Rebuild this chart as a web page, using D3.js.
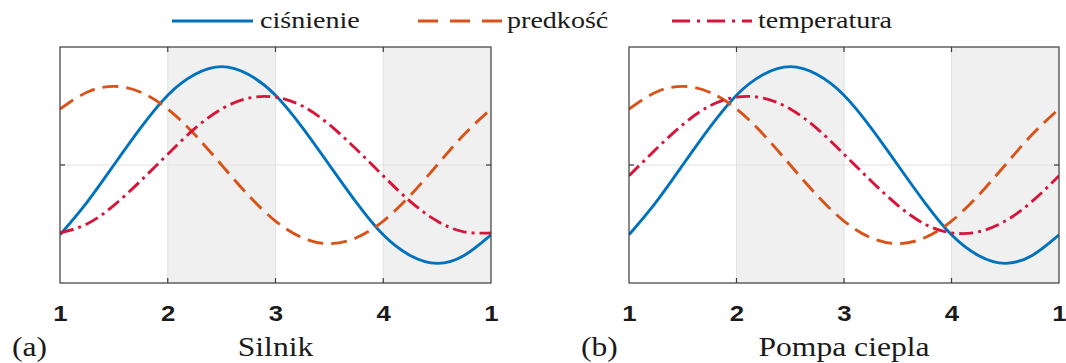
<!DOCTYPE html>
<html>
<head>
<meta charset="utf-8">
<script src="https://cdn.jsdelivr.net/npm/d3@7/dist/d3.min.js"></script>
<style>
  html, body { margin: 0; padding: 0; background: #fff; }
  svg { display: block; }
</style>
</head>
<body>
<svg id="chart" width="1066" height="363"></svg>
<script>
// Cycle position (one full cycle 1→2→3→4→1)
const cyclePos = [0, 0.25, 0.5, 0.75, 1, 1.25, 1.5, 1.75, 2, 2.25, 2.5, 2.75, 3, 3.25, 3.5, 3.75, 4];

// Normalised signals
const cisnienie   = [-0.71, -0.38, 0.00, 0.38, 0.71, 0.92, 1.00, 0.92, 0.71, 0.38, 0.00, -0.38, -0.71, -0.92, -1.00, -0.92, -0.71];
const predkosc    = [0.57, 0.74, 0.80, 0.74, 0.57, 0.31, 0.00, -0.31, -0.57, -0.74, -0.80, -0.74, -0.57, -0.31, 0.00, 0.31, 0.57];
const temperaturaSilnik = [-0.69, -0.60, -0.41, -0.16, 0.11, 0.37, 0.57, 0.68, 0.69, 0.60, 0.41, 0.16, -0.11, -0.37, -0.57, -0.68, -0.69];
const temperaturaPompa  = [-0.11, 0.16, 0.41, 0.60, 0.69, 0.68, 0.57, 0.37, 0.11, -0.16, -0.41, -0.60, -0.69, -0.68, -0.57, -0.37, -0.11];

const tickPos    = [0, 1, 2, 3, 4];
const tickLabels = ["1", "2", "3", "4", "1"];
const shadedBands = [[1, 2], [3, 4]];

const seriesNames = ["ciśnienie", "predkość", "temperatura"];
const panelTags   = ["(a)", "(b)"];
const panelTitles = ["Silnik", "Pompa ciepla"];

// Styling
const colors = ["#0072BD", "#D95319", "#D7153A"];
const dashes = [null, "16,8", "14,5,3,5"];
const legendDashes = [null, "20,12", "18,7,3,7"];
const TEXT_SX = 1.17;
const serif = "'Liberation Serif', 'Times New Roman', serif";
const sans = "'Liberation Sans', Arial, sans-serif";

const svg = d3.select("#chart");

const panels = [
  { left: 60,  right: 491,  temp: temperaturaSilnik },
  { left: 629, right: 1059, temp: temperaturaPompa }
];
const plotTop = 47, plotBottom = 283;

const y = d3.scaleLinear().domain([-1.2, 1.2]).range([plotBottom, plotTop]);

function stretchedText(g, x, yPos, txt, size, family, weight, anchor) {
  return g.append("text")
    .attr("transform", `translate(${x},${yPos}) scale(${TEXT_SX},1)`)
    .attr("text-anchor", anchor || "middle")
    .attr("font-family", family)
    .attr("font-size", size)
    .attr("font-weight", weight || "normal")
    .attr("fill", "#1a1a1a")
    .text(txt);
}

panels.forEach((p, i) => {
  const x = d3.scaleLinear().domain([0, 4]).range([p.left, p.right]);
  const g = svg.append("g");
  const clipId = "clip" + i;
  svg.append("clipPath").attr("id", clipId)
    .append("rect").attr("x", p.left).attr("y", plotTop)
    .attr("width", p.right - p.left).attr("height", plotBottom - plotTop);

  // shaded phases
  g.selectAll("rect.band").data(shadedBands).join("rect")
    .attr("class", "band")
    .attr("x", d => x(d[0])).attr("width", d => x(d[1]) - x(d[0]))
    .attr("y", plotTop).attr("height", plotBottom - plotTop)
    .attr("fill", "#f0f0f1");

  // grid
  g.selectAll("line.vgrid").data(tickPos.slice(1, -1)).join("line")
    .attr("class", "vgrid")
    .attr("x1", d => x(d)).attr("x2", d => x(d))
    .attr("y1", plotTop).attr("y2", plotBottom)
    .attr("stroke", "#e2e2e2").attr("stroke-width", 1);
  g.append("line")
    .attr("x1", p.left).attr("x2", p.right)
    .attr("y1", y(0)).attr("y2", y(0))
    .attr("stroke", "#e2e2e2").attr("stroke-width", 1);

  // curves
  const data = [cisnienie, predkosc, p.temp];
  const line = d3.line()
    .x((d, k) => x(cyclePos[k]))
    .y(d => y(d))
    .curve(d3.curveNatural);
  const curves = g.append("g").attr("clip-path", `url(#${clipId})`);
  data.forEach((vals, s) => {
    curves.append("path")
      .attr("d", line(vals))
      .attr("fill", "none")
      .attr("stroke", colors[s])
      .attr("stroke-width", 2.9)
      .attr("stroke-dasharray", dashes[s]);
  });

  // frame
  g.append("rect")
    .attr("x", p.left).attr("y", plotTop)
    .attr("width", p.right - p.left).attr("height", plotBottom - plotTop)
    .attr("fill", "none").attr("stroke", "#3a3a3a").attr("stroke-width", 1.2);

  // bottom axis (labels) and inward ticks top & bottom
  const xAxis = d3.axisBottom(x).tickValues(tickPos)
    .tickFormat((d, k) => tickLabels[k]).tickSize(0).tickPadding(0);
  const ax = g.append("g").attr("transform", `translate(0,${plotBottom})`).call(xAxis);
  ax.select(".domain").remove();
  ax.selectAll("text").remove();
  ax.selectAll(".tick").each(function (d, k) {
    stretchedText(d3.select(this), 0, 38, tickLabels[k], 22, sans, "bold");
  });
  tickPos.slice(1, -1).forEach(t => {
    g.append("line").attr("x1", x(t)).attr("x2", x(t)).attr("y1", plotBottom).attr("y2", plotBottom - 5)
      .attr("stroke", "#3a3a3a").attr("stroke-width", 1.2);
    g.append("line").attr("x1", x(t)).attr("x2", x(t)).attr("y1", plotTop).attr("y2", plotTop + 5)
      .attr("stroke", "#3a3a3a").attr("stroke-width", 1.2);
  });
  [[p.left, 5], [p.right, -5]].forEach(([xx, dx]) => {
    g.append("line").attr("x1", xx).attr("x2", xx + dx).attr("y1", y(0)).attr("y2", y(0))
      .attr("stroke", "#3a3a3a").attr("stroke-width", 1.2);
  });

  // panel captions
  stretchedText(g, (p.left + p.right) / 2, 356, panelTitles[i], 27, serif);
  stretchedText(g, p.left - 48, 356, panelTags[i], 27, serif, "normal", "start");
});

// legend
const legendItems = [
  { x1: 172, x2: 253, tx: 260 },
  { x1: 418, x2: 502, tx: 507 },
  { x1: 672, x2: 752, tx: 758 }
];
const lg = svg.append("g");
legendItems.forEach((it, s) => {
  lg.append("line")
    .attr("x1", it.x1).attr("x2", it.x2).attr("y1", 21).attr("y2", 21)
    .attr("stroke", colors[s]).attr("stroke-width", 2.9)
    .attr("stroke-dasharray", legendDashes[s]);
  stretchedText(lg, it.tx, 28, seriesNames[s], 24, serif, "normal", "start");
});
</script>
</body>
</html>
